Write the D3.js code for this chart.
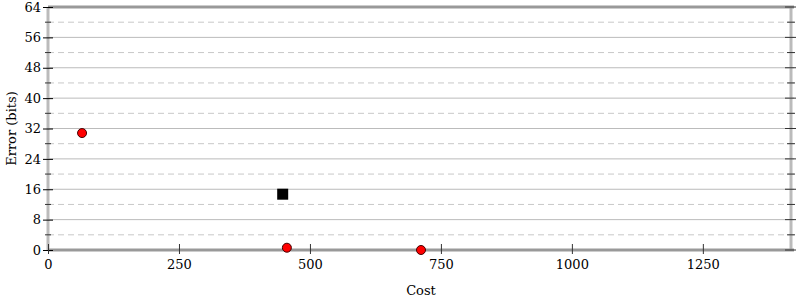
<!DOCTYPE html>
<html>
<head>
<meta charset="utf-8">
<script src="https://cdn.jsdelivr.net/npm/d3@7"></script>
<style>
  body { margin: 0; background: #fff; }
  text { font-family: "DejaVu Serif", serif; }
</style>
</head>
<body>
<svg></svg>
<script>
const width = 800;
const height = 300;

// data
const redCost = [65, 456, 712];
const redError = [30.8, 0.6, 0];
const blackCost = [448];
const blackError = [14.7];
const xTicks = [0, 250, 500, 750, 1000, 1250];
const yTicks = [0, 8, 16, 24, 32, 40, 48, 56, 64];
const yMinor = [4, 12, 20, 28, 36, 44, 52, 60];

const margin = {left: 48, right: 6, top: 7, bottom: 50};

const svg = d3.select('svg').attr('width', width).attr('height', height);

const x = d3.scaleLinear().domain([0, 1424]).range([margin.left, width - margin.right]);
const y = d3.scaleLinear().domain([0, 64]).range([height - margin.bottom, margin.top]);

const x0 = x.range()[0], x1 = x.range()[1];
const y0 = y.range()[0], y1 = y.range()[1];

// grid
svg.append('g').selectAll('line').data(yTicks.slice(1, -1)).enter().append('line')
    .attr('x1', x0).attr('x2', x1)
    .attr('y1', d => y(d)).attr('y2', d => y(d))
    .style('stroke', '#bbb').style('stroke-width', 1);
svg.append('g').selectAll('line').data(yMinor).enter().append('line')
    .attr('x1', x0).attr('x2', x1)
    .attr('y1', d => y(d)).attr('y2', d => y(d))
    .style('stroke', '#c8c8c8').style('stroke-width', 1)
    .style('stroke-dasharray', '6,4');

// frame
svg.append('line').attr('x1', x0).attr('x2', x0).attr('y1', y1).attr('y2', y0)
    .style('stroke', '#bbb').style('stroke-width', 3);
svg.append('line').attr('x1', x1 - 3).attr('x2', x1 - 3).attr('y1', y1).attr('y2', y0)
    .style('stroke', '#bbb').style('stroke-width', 3);
svg.append('line').attr('x1', x0).attr('x2', x1).attr('y1', y0).attr('y2', y0)
    .style('stroke', '#999').style('stroke-width', 3);
svg.append('line').attr('x1', x0).attr('x2', x1).attr('y1', y1).attr('y2', y1)
    .style('stroke', '#999').style('stroke-width', 3);

// y axis (left + right)
const yAxisL = d3.axisLeft(y).tickValues(yTicks).tickSizeInner(5).tickSizeOuter(0).tickPadding(2);
const gL = svg.append('g').attr('transform', `translate(${x0},0)`).call(yAxisL);
gL.select('.domain').remove();
gL.selectAll('.tick line').attr('x2', -5).attr('x1', 5).style('stroke', '#000');
gL.selectAll('.tick text').style('font-size', '13px').style('fill', '#000')
    .style('font-family', '"DejaVu Serif", serif');

svg.append('g').selectAll('line').data(yMinor).enter().append('line')
    .attr('x1', x0 - 3).attr('x2', x0 + 3)
    .attr('y1', d => y(d)).attr('y2', d => y(d)).style('stroke', '#333');

svg.append('g').selectAll('line').data(yTicks).enter().append('line')
    .attr('x1', x1 - 9).attr('x2', x1 + 2)
    .attr('y1', d => y(d)).attr('y2', d => y(d)).style('stroke', '#333');
svg.append('g').selectAll('line').data(yMinor).enter().append('line')
    .attr('x1', x1 - 7).attr('x2', x1 + 1)
    .attr('y1', d => y(d)).attr('y2', d => y(d)).style('stroke', '#333');

// x axis
const xAxis = d3.axisBottom(x).tickValues(xTicks).tickSizeInner(0).tickSizeOuter(0).tickPadding(10)
    .tickFormat(d3.format('d'));
const gX = svg.append('g').attr('transform', `translate(0,${y0})`).call(xAxis);
gX.select('.domain').remove();
gX.selectAll('.tick line').attr('y1', -6).attr('y2', 4).style('stroke', '#333');
gX.selectAll('.tick text').style('font-size', '13px').style('fill', '#000')
    .style('font-family', '"DejaVu Serif", serif');

// axis titles
svg.append('text').attr('x', (x0 + x1) / 2).attr('y', 295)
    .attr('text-anchor', 'middle').style('font-size', '13px').text('Cost');
svg.append('text').attr('transform', `translate(16,${(y0 + y1) / 2}) rotate(-90)`)
    .attr('text-anchor', 'middle').style('font-size', '13px').text('Error (bits)');

// points
const red = redCost.map((c, i) => ({c: c, e: redError[i]}));
const black = blackCost.map((c, i) => ({c: c, e: blackError[i]}));

svg.append('g').selectAll('circle').data(red).enter().append('circle')
    .attr('cx', d => x(d.c)).attr('cy', d => y(d.e)).attr('r', 4.5)
    .style('fill', '#f00').style('stroke', '#400').style('stroke-width', 1);

svg.append('g').selectAll('rect').data(black).enter().append('rect')
    .attr('x', d => x(d.c) - 5.5).attr('y', d => y(d.e) - 5.5)
    .attr('width', 11).attr('height', 11).style('fill', '#000');
</script>
</body>
</html>
